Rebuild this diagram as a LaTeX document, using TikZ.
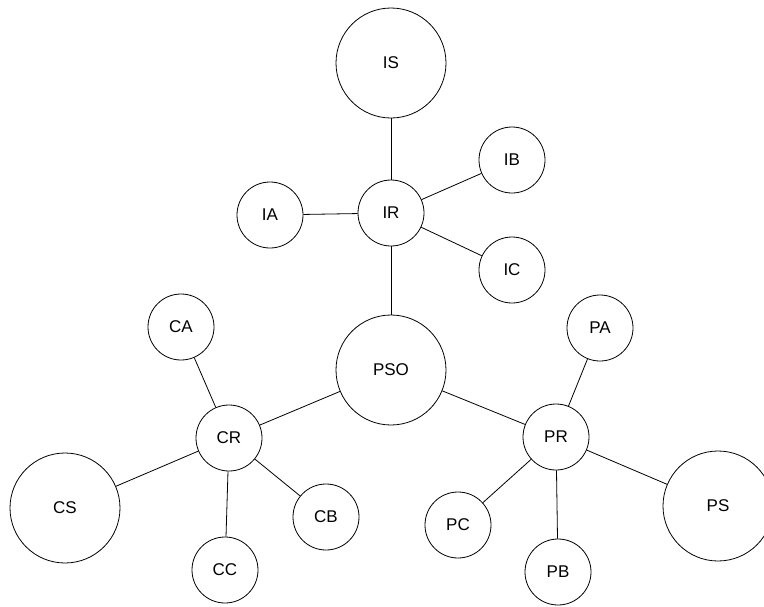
\documentclass[tikz,border=0pt]{standalone}
\usepackage{fontspec}
\setmainfont{Liberation Sans}
\begin{document}
\begin{tikzpicture}[x=1pt,y=-1pt,
  big/.style={circle,draw,line width=0.8pt,minimum size=110pt,inner sep=0pt,font=\fontsize{17}{19}\selectfont},
  small/.style={circle,draw,line width=0.8pt,minimum size=66pt,inner sep=0pt,font=\fontsize{17}{19}\selectfont},
  link/.style={line width=0.8pt}]
\useasboundingbox (0,0) rectangle (764,606);
\clip (0,0) rectangle (764,606);
\node[big]   (IS)  at (391,63)  {IS};
\node[small] (IR)  at (391,213) {IR};
\node[small] (IA)  at (270,215) {IA};
\node[small] (IB)  at (512,160) {IB};
\node[small] (IC)  at (512,270) {IC};
\node[big]   (PSO) at (391,370) {PSO};
\node[small] (CA)  at (181,327) {CA};
\node[small] (CR)  at (229,438) {CR};
\node[big]   (CS)  at (65,508)  {CS};
\node[small] (CC)  at (225,570) {CC};
\node[small] (CB)  at (326,517) {CB};
\node[small] (PA)  at (600,328) {PA};
\node[small] (PR)  at (556,437) {PR};
\node[small] (PC)  at (458,525) {PC};
\node[small] (PB)  at (558,572) {PB};
\node[big]   (PS)  at (718,506) {PS};
\draw[link] (IS) -- (IR);
\draw[link] (IR) -- (IA);
\draw[link] (IR) -- (IB);
\draw[link] (IR) -- (IC);
\draw[link] (IR) -- (PSO);
\draw[link] (PSO) -- (CR);
\draw[link] (PSO) -- (PR);
\draw[link] (CR) -- (CA);
\draw[link] (CR) -- (CS);
\draw[link] (CR) -- (CC);
\draw[link] (CR) -- (CB);
\draw[link] (PR) -- (PA);
\draw[link] (PR) -- (PC);
\draw[link] (PR) -- (PB);
\draw[link] (PR) -- (PS);
\end{tikzpicture}
\end{document}
